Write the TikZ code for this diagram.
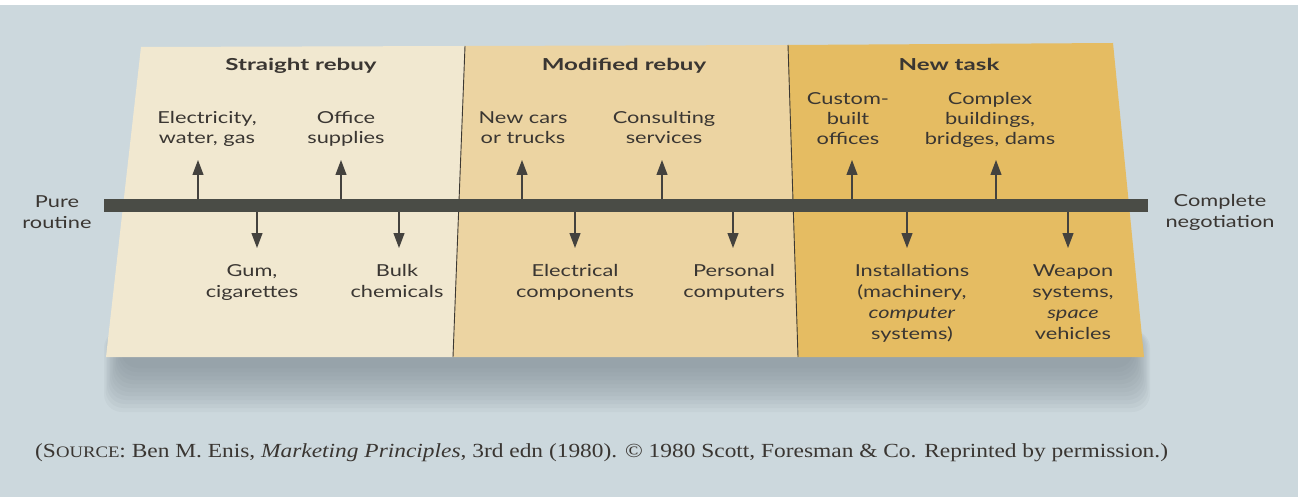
\documentclass[tikz,border=0pt]{standalone}
\usepackage{fontspec}
\usetikzlibrary{arrows.meta}
\newfontfamily\gill[FakeStretch=1.32]{Lato}
\newfontfamily\gillb[FakeStretch=1.46]{Lato}
\newfontfamily\srcfont[FakeStretch=1.17]{Liberation Serif}
\definecolor{bg}{RGB}{204,216,221}
\definecolor{pone}{RGB}{241,232,208}
\definecolor{ptwo}{RGB}{236,212,162}
\definecolor{pthree}{RGB}{229,188,98}
\definecolor{barc}{RGB}{74,76,70}
\definecolor{arrc}{RGB}{68,66,62}
\definecolor{txt}{RGB}{58,54,50}
\definecolor{divc}{RGB}{60,56,50}
\definecolor{shad}{RGB}{120,132,140}
\begin{document}
\begin{tikzpicture}[x=1pt,y=-1pt,
  lab/.style={font=\gill\fontsize{16.5}{20}\selectfont, align=center, text=txt, inner sep=0pt, anchor=north},
  side/.style={font=\gill\fontsize{16.5}{21}\selectfont, align=center, text=txt, inner sep=0pt, anchor=north},
  head/.style={font=\gillb\bfseries\fontsize{16.5}{20}\selectfont, text=txt, inner sep=0pt, anchor=base},
  arr/.style={-{Triangle[length=15pt,width=11pt]}, line width=1.2pt, draw=arrc},
]
\useasboundingbox (0,0) rectangle (1298,497);
\fill[bg] (0,0) rectangle (1298,497);
\fill[white] (0,0) rectangle (1298,5);
% shadow
\foreach \i in {0,...,11}{
  \fill[shad, opacity=0.07, rounded corners=18pt]
    (104+\i*1.5, 330) rectangle (1150-\i*1.5, 412-\i*4);
}
% panels
\fill[pone]   (141,47) -- (465,46) -- (453,357) -- (106,357) -- cycle;
\fill[ptwo]   (465,46) -- (788,45) -- (798,357) -- (453,357) -- cycle;
\fill[pthree] (788,45) -- (1113,43) -- (1144,357) -- (798,357) -- cycle;
\draw[divc, line width=0.9pt] (465,46) -- (453,357);
\draw[divc, line width=0.9pt] (788,45) -- (798,357);
% headings
\node[head] (h1) at (301,71) {Straight rebuy};
\node[head] (h2) at (624,71) {Modified rebuy};
\node[head] (h3) at (949,71) {New task};
% bar
\node[fill=barc, minimum width=1044pt, minimum height=13pt, inner sep=0pt] (bar) at (626,205.5) {};
% side labels
\node[side] (pr) at (57,195) {Pure\\routine};
\node[side] (cn) at (1220,194) {Complete\\negotiation};
% top labels
\node[lab] (t1) at (207,111) {Electricity,\\water, gas};
\node[lab] (t2) at (346,111) {Office\\supplies};
\node[lab] (t3) at (523,111) {New cars\\or trucks};
\node[lab] (t4) at (664,111) {Consulting\\services};
\node[lab] (t5) at (848,92) {Custom-\\built\\offices};
\node[lab] (t6) at (990,92) {Complex\\buildings,\\bridges, dams};
% bottom labels
\node[side] (b1) at (252,264) {Gum,\\cigarettes};
\node[side] (b2) at (397,264) {Bulk\\chemicals};
\node[side] (b3) at (575,264) {Electrical\\components};
\node[side] (b4) at (734,264) {Personal\\computers};
\node[side] (b5) at (912,264) {Installations\\(machinery,\\\textit{computer}\\systems)};
\node[side] (b6) at (1073,264) {Weapon\\systems,\\\textit{space}\\vehicles};
% arrow tips
\coordinate (u1) at (198,160);
\coordinate (u2) at (341,160);
\coordinate (u3) at (522,160);
\coordinate (u4) at (662,160);
\coordinate (u5) at (852,160);
\coordinate (u6) at (996,160);
\coordinate (d1) at (257,248);
\coordinate (d2) at (399,248);
\coordinate (d3) at (575,248);
\coordinate (d4) at (733,248);
\coordinate (d5) at (907,248);
\coordinate (d6) at (1068,248);
\foreach \c in {u1,u2,u3,u4,u5,u6}{
  \draw[arr] (\c |- bar.north) -- (\c);
}
\foreach \c in {d1,d2,d3,d4,d5,d6}{
  \draw[arr] (\c |- bar.south) -- (\c);
}
% source line
\node[font=\srcfont\fontsize{20}{23}\selectfont, text=txt, inner sep=0pt, anchor=base west] (src) at (35,457)
  {(S{\fontsize{16}{18}\selectfont OURCE}: Ben M. Enis, \textit{Marketing Principles}, 3rd edn (1980). \textcopyright{} 1980 Scott, Foresman \& Co. Reprinted by permission.)};
\end{tikzpicture}
\end{document}
